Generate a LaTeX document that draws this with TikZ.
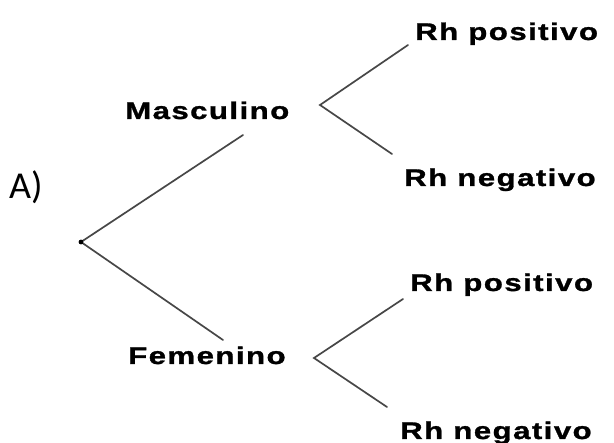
\documentclass[tikz,border=0pt]{standalone}
\usepackage{fontspec}
\newfontfamily\labfont[FakeStretch=1.3,LetterSpace=6,FakeBold=1.2]{Liberation Sans Bold}
\newfontfamily\letfont{Carlito}
\begin{document}
\begin{tikzpicture}[x=1pt,y=-1pt,
  lab/.style={font=\labfont\fontsize{24}{26}\selectfont, inner sep=0pt, anchor=base west, text=black},
  branch/.style={draw=black!72, line width=1.7pt, line cap=round}]
\useasboundingbox[fill=white] (0,0) rectangle (614,443);
\node[font=\letfont\fontsize{38}{40}\selectfont, inner sep=0pt, anchor=base west] (lbl) at (9,199) {A)};
% text nodes
\node[lab] (masc) at (125,119) {Masculino};
\node[lab] (fem) at (128,364) {Femenino};
\node[lab] (rp1) at (415,40) {Rh positivo};
\node[lab] (rn1) at (404,186) {Rh negativo};
\node[lab] (rp2) at (410,291) {Rh positivo};
\node[lab] (rn2) at (400,439) {Rh negativo};
% fork points and line ends
\coordinate (root) at (81,242);
\coordinate (mend) at (243,135);
\coordinate (fend) at (223,340);
\coordinate (mfork) at (320,105);
\coordinate (rp1end) at (408,45);
\coordinate (rn1end) at (392,154);
\coordinate (ffork) at (314,358);
\coordinate (rp2end) at (403,299);
\coordinate (rn2end) at (387,407);
\draw[branch] (mend) -- (root) -- (fend);
\draw[branch] (rp1end) -- (mfork) -- (rn1end);
\draw[branch] (rp2end) -- (ffork) -- (rn2end);
\fill[black] (root) circle (2.4);
\end{tikzpicture}
\end{document}
